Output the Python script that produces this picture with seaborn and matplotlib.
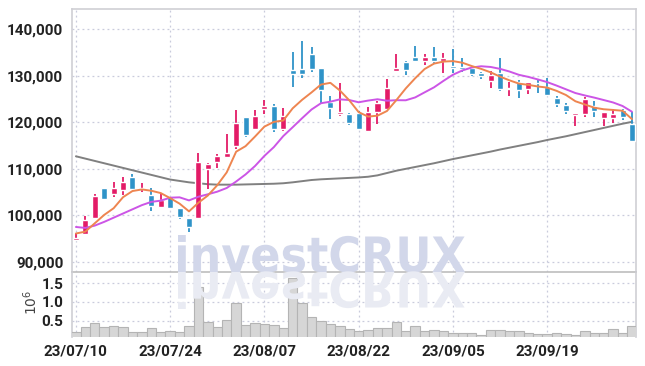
import matplotlib
matplotlib.use("Agg")
import matplotlib.pyplot as plt
import seaborn as sns
import numpy as np
import pandas as pd
from matplotlib.textpath import TextPath
from matplotlib.patches import PathPatch
from matplotlib.font_manager import FontProperties
from matplotlib.transforms import Affine2D

# daily candles, 23/07/10 .. 23/10/06 (trading days)
opens = [94600, 95900, 99500, 105900, 104600, 105450, 108250, 105700, 104450, 101850,
         103900, 101500, 99350, 99500, 110050, 111550, 112550, 114900, 121100, 118650,
         122950, 123500, 118500, 131250, 131450, 134700, 131600, 124300, 121800, 121800,
         121950, 118200, 122300, 122950, 131050, 133000, 134050, 133250, 134050, 133150,
         132050, 131900, 131700, 130700, 128950, 130600, 127250, 128650, 127250, 128550,
         127650, 125250, 123700, 121650, 121850, 123500, 121000, 120950, 122650, 119650]
highs = [96100, 99900, 104600, 105900, 107200, 108200, 108800, 107000, 105800, 104700,
         104000, 101600, 99500, 113500, 111300, 113100, 117400, 122650, 121200, 122650,
         124800, 123900, 123000, 135050, 137500, 136250, 131650, 125700, 128400, 121900,
         122500, 123250, 124600, 129250, 134600, 133100, 136400, 134700, 136250, 134850,
         135700, 133750, 131750, 130850, 131100, 133750, 128750, 129100, 128750, 129250,
         129600, 125650, 124200, 122000, 125500, 124500, 122300, 122800, 122800, 122300]
lows = [94500, 95800, 99300, 103300, 104000, 104400, 105450, 105100, 101000, 101800,
        101300, 99300, 96350, 99300, 105600, 110100, 112250, 114200, 116900, 118350,
        121700, 118000, 118200, 127550, 129450, 130750, 124100, 120800, 121350, 119350,
        118300, 118100, 119600, 122900, 130750, 130200, 132900, 132250, 132700, 130550,
        130650, 130800, 129950, 129250, 127300, 126800, 125700, 125150, 126100, 126300,
        125650, 123350, 121700, 119200, 121200, 121200, 119200, 119800, 120500, 116050]
closes = [95200, 99000, 104150, 103500, 105800, 107100, 105600, 105850, 102100, 103300,
          101650, 99700, 97550, 111400, 111050, 112750, 113450, 119800, 117350, 121300,
          123500, 118500, 121300, 130450, 130450, 131450, 126950, 123150, 122300, 119900,
          118650, 122150, 124150, 127300, 131600, 131250, 133100, 134050, 133100, 133800,
          131750, 131400, 130450, 130050, 130100, 127150, 127400, 126950, 128650, 128400,
          125950, 123900, 122450, 121950, 124950, 122500, 122200, 121700, 121100, 116050]

# moving averages
ma5 = [96100, 96500, 98300, 100100, 101530, 103910, 105230, 105570, 105290, 104790,
       103700, 102520, 100860, 102720, 104270, 106490, 109240, 113690, 114880, 116930,
       119080, 120090, 120390, 123010, 124840, 126430, 128120, 128490, 126860, 124750,
       122190, 121230, 121430, 122430, 124770, 127290, 129480, 131460, 132620, 133060,
       133160, 132820, 132100, 131490, 130750, 129830, 129030, 128330, 128050, 127710,
       127470, 126770, 125870, 124530, 123840, 123150, 122810, 122660, 122490, 120710]
ma10 = [97500, 97300, 97800, 98600, 99500, 100400, 101300, 102200, 102900, 103160,
        103805, 103875, 103215, 104005, 104530, 105095, 105880, 107275, 108800, 110600,
        112785, 114665, 117040, 118945, 120885, 122755, 124105, 124440, 124935, 124795,
        124310, 124675, 124960, 124645, 124760, 124740, 125355, 126445, 127525, 128915,
        130225, 131150, 131780, 132055, 131905, 131495, 130925, 130215, 129770, 129230,
        128650, 127900, 127100, 126295, 125780, 125315, 124795, 124270, 123515, 122280]
ma60 = [112700, 112200, 111700, 111200, 110700, 110200, 109700, 109200, 108700, 108200,
        107700, 107400, 107100, 106900, 106700, 106600, 106600, 106600, 106650, 106700,
        106750, 106800, 106900, 107100, 107350, 107600, 107750, 107850, 107950, 108050,
        108150, 108300, 108600, 109100, 109600, 110000, 110400, 110800, 111200, 111650,
        112100, 112500, 112900, 113300, 113700, 114150, 114550, 114950, 115350, 115750,
        116200, 116600, 117000, 117450, 117900, 118350, 118800, 119250, 119700, 120100]

# volume in millions of shares
volume = [0.18, 0.32, 0.43, 0.32, 0.35, 0.32, 0.19, 0.19, 0.29, 0.19,
          0.21, 0.19, 0.35, 1.39, 0.46, 0.32, 0.51, 0.97, 0.38, 0.43,
          0.40, 0.38, 0.29, 1.64, 0.97, 0.59, 0.48, 0.40, 0.35, 0.26,
          0.23, 0.25, 0.29, 0.29, 0.46, 0.23, 0.36, 0.21, 0.25, 0.23,
          0.16, 0.16, 0.16, 0.12, 0.25, 0.25, 0.21, 0.21, 0.16, 0.13,
          0.13, 0.16, 0.13, 0.11, 0.21, 0.16, 0.16, 0.28, 0.16, 0.35]

tick_pos = [0, 10, 20, 30, 40, 50]
tick_labels = ["23/07/10", "23/07/24", "23/08/07", "23/08/22", "23/09/05", "23/09/19"]
price_ticks = [90000, 100000, 110000, 120000, 130000, 140000]
vol_ticks = [0.5, 1.0, 1.5]

df = pd.DataFrame({"idx": np.arange(len(closes)), "open": opens, "high": highs,
                   "low": lows, "close": closes, "ma5": ma5, "ma10": ma10,
                   "ma60": ma60, "volume": volume})

sns.set_theme(style="white")
plt.rcParams["font.family"] = ["Roboto", "DejaVu Sans"]

UP = "#e31b67"
DOWN = "#2f93c8"
GRID = "#c9cbdc"
EDGE = "#cfcfd4"
LABEL = dict(fontsize=11, fontweight="bold", color="#222222")

fig = plt.figure(figsize=(6.45, 3.66), dpi=100)
ax = fig.add_axes([0.111, 0.2568, 0.8746, 0.7178])
axv = fig.add_axes([0.111, 0.0784, 0.8746, 0.1784], sharex=ax)

# watermark with reflection
fp = FontProperties(family="DejaVu Sans", weight="bold")
tp = TextPath((0, 0), "investCRUX", size=1, prop=fp)
bb = tp.get_extents()
sx = 287 / bb.width
sy = 37 / bb.y1
x0, base = 178, 366 - 272
wm = Affine2D().scale(sx, sy).translate(x0 - bb.x0 * sx, base)
fig.patches.append(PathPatch(wm.transform_path(tp), fc="#d2d7ea", ec="none",
                             transform=None, zorder=0.5, figure=fig))
wr = Affine2D().scale(sx, -sy).translate(x0 - bb.x0 * sx, base)
fig.patches.append(PathPatch(wr.transform_path(tp), fc="#e9ebf3", ec="none",
                             transform=None, zorder=0.5, figure=fig))
ax.patch.set_alpha(0)
axv.patch.set_alpha(0)

# candles
up = df["close"] >= df["open"]
colors = np.where(up, UP, DOWN)
ax.vlines(df["idx"], df["low"], df["high"], colors=colors, linewidth=1.3, zorder=3)
body_lo = np.minimum(df["open"], df["close"])
body_h = np.maximum(np.abs(df["close"] - df["open"]), 150)
ax.bar(df["idx"], body_h, bottom=body_lo, width=0.64, color=colors, zorder=4)

sns.lineplot(data=df, x="idx", y="ma60", ax=ax, color="#808080", linewidth=1.4, zorder=2)
sns.lineplot(data=df, x="idx", y="ma10", ax=ax, color="#cc55e6", linewidth=1.4, zorder=5)
sns.lineplot(data=df, x="idx", y="ma5", ax=ax, color="#ee8550", linewidth=1.4, zorder=6)

ax.set_xlim(-0.46, 59.4)
ax.set_ylim(87820, 144300)
ax.set_yticks(price_ticks)
ax.set_yticklabels([f"{v:,}" for v in price_ticks], **LABEL)
ax.set_xlabel("")
ax.set_ylabel("")
ax.tick_params(axis="x", bottom=False, labelbottom=False)
ax.tick_params(axis="y", length=0, pad=6)
ax.grid(True, color=GRID, linestyle=(0, (1.5, 2.5)), linewidth=0.9)

# volume
axv.bar(df["idx"], df["volume"], width=1.0, color="#d6d6d6", edgecolor="#b4b4b4",
        linewidth=0.8, zorder=3)
axv.set_ylim(0.05, 1.8)
axv.set_yticks(vol_ticks)
axv.set_yticklabels(["0.5", "1.0", "1.5"], **LABEL)
axv.set_xticks(tick_pos)
axv.set_xticklabels(tick_labels, **LABEL)
axv.tick_params(axis="both", length=0)
axv.tick_params(axis="x", pad=5)
axv.tick_params(axis="y", pad=6)
axv.grid(True, color=GRID, linestyle=(0, (1.5, 2.5)), linewidth=0.9)
fig.text(0.047, 0.175, r"$10^6$", rotation=90, ha="center", va="center",
         fontsize=10, color="#444444", family="DejaVu Sans")

for a in (ax, axv):
    for s in a.spines.values():
        s.set_color(EDGE)
        s.set_linewidth(1.2)
ax.spines["bottom"].set_color("#bdbdbd")
axv.spines["top"].set_visible(False)
axv.spines["bottom"].set_visible(False)

fig.savefig("out.png", dpi=100)
